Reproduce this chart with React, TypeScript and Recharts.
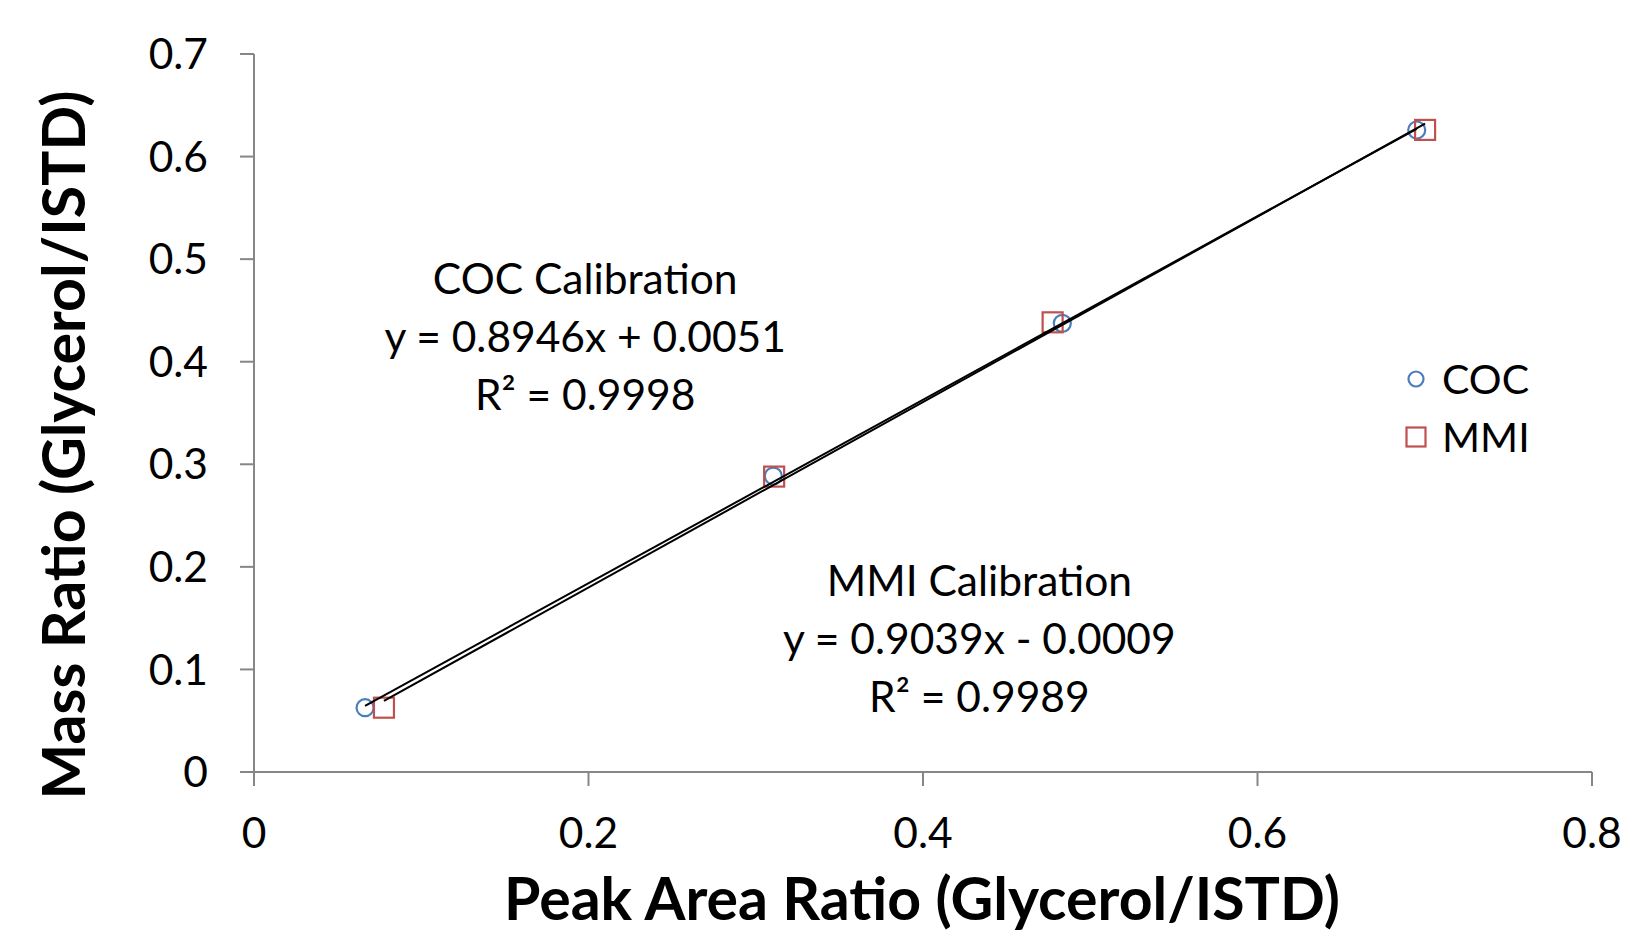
import React from 'react';
import { ScatterChart, Scatter, XAxis, YAxis, ReferenceDot, Label } from 'recharts';

const cocX = [0.0664, 0.3105, 0.4833, 0.6952];
const cocY = [0.0627, 0.2885, 0.4374, 0.6259];
const mmiX = [0.0777, 0.311, 0.4775, 0.7002];
const mmiY = [0.0627, 0.288, 0.4384, 0.626];

const cocFit = { slope: 0.8946, intercept: 0.0051 };
const mmiFit = { slope: 0.9039, intercept: -0.0009 };

const xTicks = [0, 0.2, 0.4, 0.6, 0.8];
const yTicks = [0, 0.1, 0.2, 0.3, 0.4, 0.5, 0.6, 0.7];

const cocLabel = ['COC Calibration', 'y = 0.8946x + 0.0051', 'R² = 0.9998'];
const mmiLabel = ['MMI Calibration', 'y = 0.9039x - 0.0009', 'R² = 0.9989'];
const seriesNames = ['COC', 'MMI'];

const cocData = cocX.map((x, i) => ({ x, y: cocY[i] }));
const mmiData = mmiX.map((x, i) => ({ x, y: mmiY[i] }));
const trend = (xs: number[], f: { slope: number; intercept: number }) => {
  const lo = Math.min(...xs);
  const hi = Math.max(...xs);
  return [lo, hi].map((x) => ({ x, y: f.slope * x + f.intercept }));
};
const cocTrend = trend(cocX, cocFit);
const mmiTrend = trend(mmiX, mmiFit);

const BLUE = '#4a7ebb';
const RED = '#c0504d';
const AXIS = '#868686';
const FONT = 'Lato, sans-serif';

const Circle = (p: any) => (
  <circle cx={p.cx} cy={p.cy} r={8.5} fill="none" stroke={BLUE} strokeWidth={2.2} />
);
const Square = (p: any) => (
  <rect x={p.cx - 10} y={p.cy - 10} width={20} height={20} fill="none" stroke={RED} strokeWidth={2.2} />
);
const NoShape = () => <g />;

const textBlock = (lines: string[]) => (p: any) => (
  <text textAnchor="middle" fontFamily={FONT} fontSize={42.5} fill="#000">
    {lines.map((l, i) => (
      <tspan key={i} x={p.cx} y={p.cy + (i - 1) * 58} dominantBaseline="central">
        {l}
      </tspan>
    ))}
  </text>
);

const fmt = (v: number) => (v === 0 ? '0' : String(v));

const LegendBox = () => (
  <div
    style={{
      position: 'absolute',
      left: 1404,
      top: 350,
      fontFamily: FONT,
      fontSize: 41,
      lineHeight: '58px',
      color: '#000',
    }}
  >
    <div style={{ display: 'flex', alignItems: 'center' }}>
      <svg width={24} height={24} style={{ marginRight: 14 }}>
        <circle cx={12} cy={12} r={7.5} fill="none" stroke={BLUE} strokeWidth={2.2} />
      </svg>
      {seriesNames[0]}
    </div>
    <div style={{ display: 'flex', alignItems: 'center' }}>
      <svg width={24} height={24} style={{ marginRight: 14 }}>
        <rect x={2.5} y={2.5} width={19} height={19} fill="none" stroke={RED} strokeWidth={2.2} />
      </svg>
      {seriesNames[1]}
    </div>
  </div>
);

export default function App() {
  return (
    <div style={{ position: 'absolute', left: 0, top: 0, width: 1625, height: 931, background: '#fff' }}>
      <ScatterChart width={1625} height={931} margin={{ top: 54, right: 33, left: 0, bottom: 0 }}>
        <XAxis
          type="number"
          dataKey="x"
          domain={[0, 0.8]}
          ticks={xTicks}
          tickFormatter={fmt}
          height={159}
          tickSize={14}
          tickMargin={32}
          axisLine={{ stroke: AXIS, strokeWidth: 2 }}
          tickLine={{ stroke: AXIS, strokeWidth: 2 }}
          tick={{ fill: '#000', fontSize: 42.5, fontFamily: FONT }}
          interval={0}
          allowDataOverflow
        >
          <Label
            content={() => (
              <text x={922} y={897} textAnchor="middle" dominantBaseline="central" fontFamily={FONT} fontWeight={700} fontSize={59} fill="#000">
                Peak Area Ratio (Glycerol/ISTD)
              </text>
            )}
          />
        </XAxis>
        <YAxis
          type="number"
          dataKey="y"
          domain={[0, 0.7]}
          ticks={yTicks}
          tickFormatter={fmt}
          width={254}
          tickSize={14}
          tickMargin={32}
          axisLine={{ stroke: AXIS, strokeWidth: 2 }}
          tickLine={{ stroke: AXIS, strokeWidth: 2 }}
          tick={{ fill: '#000', fontSize: 42.5, fontFamily: FONT }}
          interval={0}
          allowDataOverflow
        >
          <Label
            content={() => (
              <text x={62} y={445} transform="rotate(-90 62 445)" textAnchor="middle" dominantBaseline="central" fontFamily={FONT} fontWeight={700} fontSize={59} fill="#000">
                Mass Ratio (Glycerol/ISTD)
              </text>
            )}
          />
        </YAxis>
        <Scatter name="COC" data={cocData} shape={Circle} isAnimationActive={false} />
        <Scatter name="MMI" data={mmiData} shape={Square} isAnimationActive={false} />
        <Scatter data={cocTrend} shape={NoShape} line={{ stroke: '#000', strokeWidth: 2 }} isAnimationActive={false} legendType="none" />
        <Scatter data={mmiTrend} shape={NoShape} line={{ stroke: '#000', strokeWidth: 2 }} isAnimationActive={false} legendType="none" />
        <ReferenceDot x={0.198} y={0.4253} r={0} shape={textBlock(cocLabel)} />
        <ReferenceDot x={0.4337} y={0.1312} r={0} shape={textBlock(mmiLabel)} />
      </ScatterChart>
      <LegendBox />
    </div>
  );
}
